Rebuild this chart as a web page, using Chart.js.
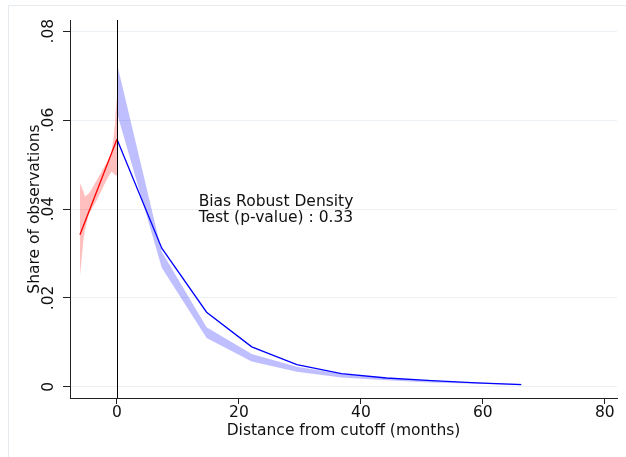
<!DOCTYPE html>
<html>
<head>
<meta charset="utf-8">
<script src="https://cdn.jsdelivr.net/npm/chart.js@4/dist/chart.umd.min.js"></script>
<style>
  html, body { margin: 0; padding: 0; background: #fff; }
  #wrap { width: 626px; height: 457px; }
</style>
</head>
<body>
<div id="wrap"><canvas id="myChart" width="626" height="457"></canvas></div>
<script>
// left of cutoff (red)
const leftX = [-6.07, 0];
const leftY = [0.0342, 0.0557];
const leftBandX = [-6.07, -5.5, -5.25, -4.7, -4.4, -3.6, -3.3, -2.5, -2.25, -1.4, -1.15, -0.9, -0.6, -0.33, -0.2, 0];
const leftBandHi = [0.0458, 0.0440, 0.0428, 0.0434, 0.0439, 0.0458, 0.0465, 0.0484, 0.0491, 0.0511, 0.0518, 0.0528, 0.0555, 0.0590, 0.0622, 0.0652];
const leftBandLo = [0.0248, 0.0330, 0.0352, 0.0383, 0.0393, 0.0413, 0.0420, 0.0443, 0.0450, 0.0473, 0.0478, 0.0484, 0.0481, 0.0476, 0.0476, 0.0476];

// right of cutoff (blue)
const rightX = [0, 7.35, 14.7, 22.1, 29.5, 36.8, 44.2, 51.6, 59, 66.3];
const rightY = [0.0557, 0.0312, 0.0168, 0.0090, 0.0050, 0.0030, 0.0020, 0.0014, 0.0009, 0.0005];
const rightBandHi = [0.0727, 0.0304, 0.0134, 0.0074, 0.0045, 0.0029, 0.0020, 0.0014, 0.0010, 0.0007];
const rightBandLo = [0.0616, 0.0268, 0.0110, 0.0057, 0.0034, 0.0021, 0.0015, 0.0010, 0.0007, 0.0004];

const xTicks = [0, 20, 40, 60, 80];
const yTicks = [0, 0.02, 0.04, 0.06, 0.08];
const yTickLabels = ["0", ".02", ".04", ".06", ".08"];
const cutoff = 0;
const note = ["Bias Robust Density", "Test (p-value) : 0.33"];

const FONT = "'DejaVu Sans', sans-serif";
const ctx = document.getElementById("myChart").getContext("2d");

const pts = (xs, ys) => xs.map((x, i) => ({ x: x, y: ys[i] }));

const extras = {
  id: "extras",
  beforeDraw: (chart) => {
    const c = chart.ctx;
    c.save();
    c.fillStyle = "#fff";
    c.fillRect(0, 0, chart.width, chart.height);
    c.strokeStyle = "#e6ebef";
    c.lineWidth = 1;
    c.beginPath();
    c.moveTo(8.5, chart.height);
    c.lineTo(8.5, 5.5);
    c.lineTo(chart.width, 5.5);
    c.stroke();
    c.restore();
  },
  afterDatasetsDraw: (chart) => {
    const c = chart.ctx;
    const xs = chart.scales.x;
    const ys = chart.scales.y;
    const area = chart.chartArea;
    c.save();
    // cutoff line
    const px = Math.round(xs.getPixelForValue(cutoff)) + 0.5;
    c.strokeStyle = "#000";
    c.lineWidth = 1;
    c.beginPath();
    c.moveTo(px, area.top);
    c.lineTo(px, area.bottom);
    c.stroke();
    // rotated y tick labels
    c.fillStyle = "#111";
    c.font = "15.5px " + FONT;
    c.textAlign = "center";
    c.textBaseline = "middle";
    yTicks.forEach((v, i) => {
      c.save();
      c.translate(49, ys.getPixelForValue(v));
      c.rotate(-Math.PI / 2);
      c.fillText(yTickLabels[i], 0, 0);
      c.restore();
    });
    // note
    c.textAlign = "left";
    c.textBaseline = "alphabetic";
    const nx = xs.getPixelForValue(13.4);
    const ny = ys.getPixelForValue(0.0407);
    note.forEach((t, i) => c.fillText(t, nx, ny + i * 16));
    c.restore();
  },
};

new Chart(ctx, {
  type: "line",
  data: {
    datasets: [
      {
        data: pts(leftX, leftY),
        borderColor: "#ff0000",
        borderWidth: 1.3,
        pointRadius: 0,
        fill: false,
        order: 0,
      },
      {
        data: pts(rightX, rightY),
        borderColor: "#0000ff",
        borderWidth: 1.3,
        pointRadius: 0,
        fill: false,
        order: 0,
      },
      {
        data: pts(leftBandX, leftBandHi),
        borderWidth: 0,
        pointRadius: 0,
        backgroundColor: "rgba(255, 0, 0, 0.25)",
        fill: "+1",
        order: 1,
      },
      {
        data: pts(leftBandX, leftBandLo),
        borderWidth: 0,
        pointRadius: 0,
        fill: false,
        order: 1,
      },
      {
        data: pts(rightX, rightBandHi),
        borderWidth: 0,
        pointRadius: 0,
        backgroundColor: "rgba(0, 0, 255, 0.25)",
        fill: "+1",
        order: 1,
      },
      {
        data: pts(rightX, rightBandLo),
        borderWidth: 0,
        pointRadius: 0,
        fill: false,
        order: 1,
      },
    ],
  },
  options: {
    responsive: false,
    animation: false,
    events: [],
    layout: { padding: { left: 0, top: 20, right: 9, bottom: 0 } },
    plugins: { legend: { display: false }, tooltip: { enabled: false } },
    scales: {
      x: {
        type: "linear",
        min: -7.7,
        max: 82,
        afterBuildTicks: (s) => {
          s.ticks = xTicks.map((v) => ({ value: v }));
        },
        afterFit: (s) => {
          s.height = 59;
        },
        grid: { drawOnChartArea: false, tickLength: 6, tickColor: "#222" },
        border: { color: "#222", width: 1 },
        ticks: {
          color: "#111",
          font: { family: FONT, size: 15.5 },
          padding: 0,
          maxRotation: 0,
          callback: (v) => String(v),
        },
        title: {
          display: true,
          text: "Distance from cutoff (months)",
          color: "#111",
          font: { family: FONT, size: 15.5, lineHeight: 1.2 },
          padding: { top: 0, bottom: 17 },
        },
      },
      y: {
        type: "linear",
        min: -0.0025,
        max: 0.0825,
        afterBuildTicks: (s) => {
          s.ticks = yTicks.map((v) => ({ value: v }));
        },
        afterFit: (s) => {
          s.width = 70;
        },
        grid: { color: "#eaf0f3", lineWidth: 1, tickLength: 7, tickColor: "#222" },
        border: { color: "#222", width: 1 },
        ticks: { display: false },
        title: {
          display: true,
          text: "Share of observations",
          color: "#111",
          font: { family: FONT, size: 15.5, lineHeight: 1.2 },
          padding: { top: 26, bottom: 0 },
        },
      },
    },
  },
  plugins: [extras],
});
</script>
</body>
</html>
